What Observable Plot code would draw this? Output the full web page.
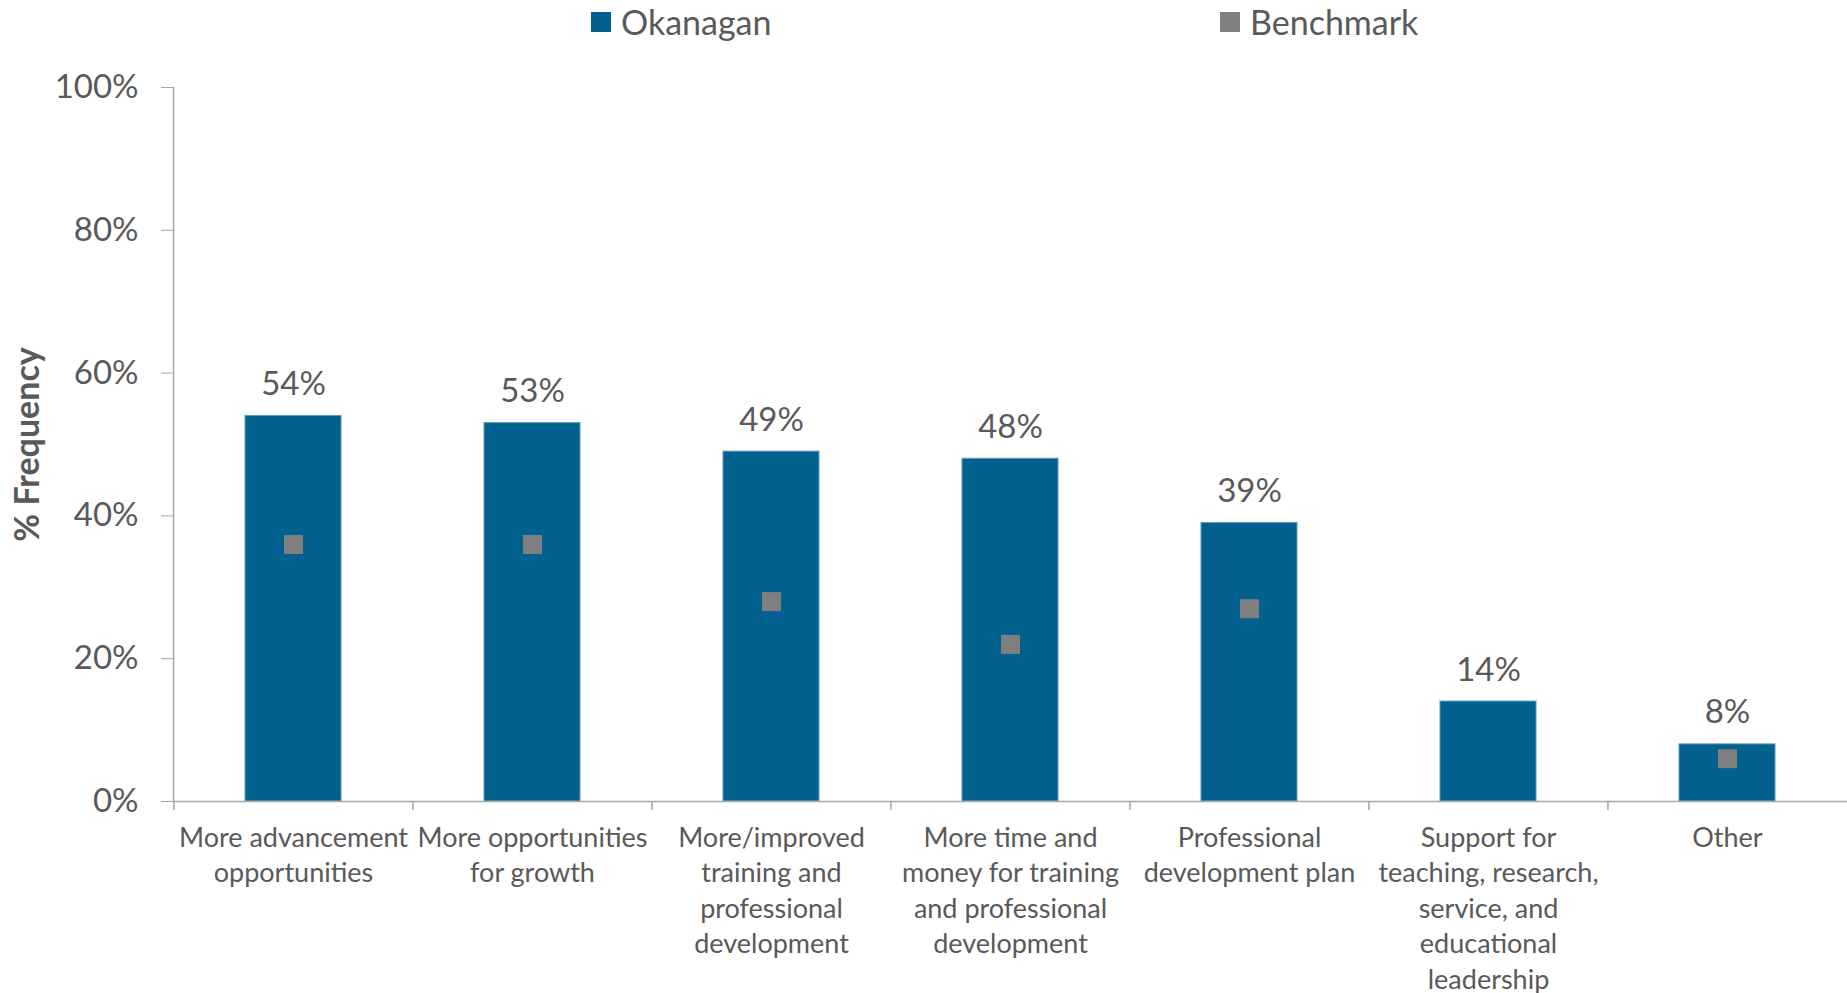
<!DOCTYPE html>
<html>
<head>
<meta charset="utf-8">
<script src="https://cdn.jsdelivr.net/npm/d3@7"></script>
<script src="https://cdn.jsdelivr.net/npm/@observablehq/plot@0.6"></script>
<style>
  body { margin: 0; background: #fff; font-family: Lato, sans-serif; color: #595959; }
  #legend { position: relative; height: 44px; }
  .item { position: absolute; top: 0; height: 43px; display: flex; align-items: center; font-size: 34px; white-space: nowrap; }
  .swatch { width: 20px; height: 20px; margin-right: 10px; }
</style>
</head>
<body>
<div id="legend"></div>
<div id="chart"></div>
<script>
// Categories of support requested, with the wrapped label shown under each bar
const categories = [
  "More advancement opportunities",
  "More opportunities for growth",
  "More/improved training and professional development",
  "More time and money for training and professional development",
  "Professional development plan",
  "Support for teaching, research, service, and educational leadership",
  "Other"
];
const categoryLabels = [
  "More advancement\nopportunities",
  "More opportunities\nfor growth",
  "More/improved\ntraining and\nprofessional\ndevelopment",
  "More time and\nmoney for training\nand professional\ndevelopment",
  "Professional\ndevelopment plan",
  "Support for\nteaching, research,\nservice, and\neducational\nleadership",
  "Other"
];

// % frequency per category
const okanagan = [54, 53, 49, 48, 39, 14, 8];
const benchmark = [36, 36, 28, 22, 27, null, 6];

const seriesNames = ["Okanagan", "Benchmark"];
const seriesColors = ["#03618f", "#7f7f7f"];
const yTicks = [0, 20, 40, 60, 80, 100];

// Legend row above the plot
const legendLeft = [591, 1220];
const legend = document.getElementById("legend");
seriesNames.forEach((name, i) => {
  const item = document.createElement("div");
  item.className = "item";
  item.style.left = legendLeft[i] + "px";
  const sw = document.createElement("span");
  sw.className = "swatch";
  sw.style.background = seriesColors[i];
  item.appendChild(sw);
  item.appendChild(document.createTextNode(name));
  legend.appendChild(item);
});

const data = categories.map((c, i) => ({
  category: c,
  okanagan: okanagan[i],
  benchmark: benchmark[i]
}));
const labelOf = new Map(categories.map((c, i) => [c, categoryLabels[i]]));

const W = 1847, H = 949;
const mL = 173, mR = 0, mT = 43, mB = 192;
const step = (W - mL - mR) / categories.length;
const axisColor = "#a6a6a6";
const textColor = "#595959";

const chart = Plot.plot({
  width: W,
  height: H,
  marginLeft: mL,
  marginRight: mR,
  marginTop: mT,
  marginBottom: mB,
  style: { fontFamily: "Lato, sans-serif", fontSize: "33px", color: textColor, background: "#fff", overflow: "visible" },
  x: { domain: categories, paddingInner: 0.6, paddingOuter: 0.3, label: null },
  y: { domain: [0, 100], label: null },
  marks: [
    Plot.barY(data, { x: "category", y: "okanagan", fill: seriesColors[0], stroke: "#5f98bd", strokeWidth: 1 }),
    Plot.dot(data, { x: "category", y: "benchmark", symbol: "square", r: 10.7, fill: seriesColors[1], stroke: null }),
    Plot.text(data, { x: "category", y: "okanagan", text: d => `${d.okanagan}%`, dy: -21, lineAnchor: "bottom", fill: textColor, fontSize: 33 }),
    Plot.frame({ anchor: "left", stroke: axisColor, strokeWidth: 1.5 }),
    Plot.ruleY([0], { stroke: axisColor, strokeWidth: 1.5 }),
    // category separators below the baseline
    Plot.ruleX(categories, { x: d => d, y1: 0, y2: 0, dx: -step / 2, insetBottom: -9, stroke: axisColor, strokeWidth: 1.5 }),
    Plot.axisY({ ticks: yTicks, tickFormat: d => `${d}%`, tickSize: 12, tickPadding: 23, stroke: axisColor, fill: textColor, fontSize: 33, label: null }),
    Plot.axisX({ tickSize: 0, tickPadding: 20, tickFormat: d => labelOf.get(d), fill: textColor, fontSize: 27, lineHeight: 1.315, label: null }),
    Plot.text(["% Frequency"], { frameAnchor: "left", textAnchor: "middle", dx: -145, rotate: -90, fontWeight: "bold", fontSize: 34, fill: textColor })
  ]
});
document.getElementById("chart").appendChild(chart);
</script>
</body>
</html>
